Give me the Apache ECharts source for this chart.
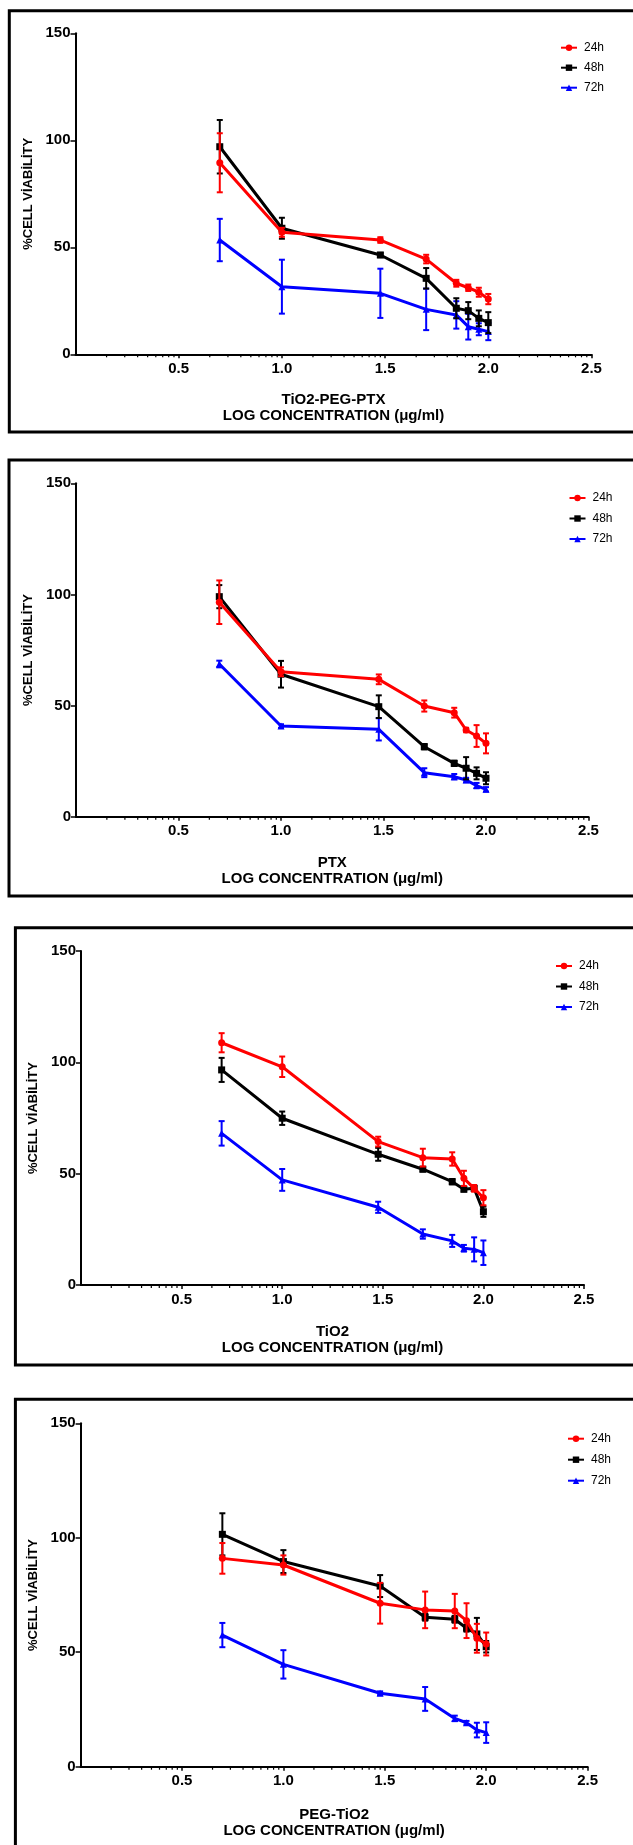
<!DOCTYPE html>
<html><head><meta charset="utf-8">
<script src="https://cdn.jsdelivr.net/npm/echarts@6/dist/echarts.min.js"></script>
<style>html,body{margin:0;padding:0;background:#fff}#c{width:633px;height:1845px}</style>
</head><body><div id="c"></div>
<script>
// ---------- DATA ----------
const logConc = [0.699, 1, 1.477, 1.699, 1.845, 1.903, 1.954, 2];
const xTickLabels = ['0.5', '1.0', '1.5', '2.0', '2.5'];
const yTicks = [0, 50, 100, 150];
const seriesNames = ['24h', '48h', '72h'];
const panelTitles = ['TiO2-PEG-PTX', 'PTX', 'TiO2', 'PEG-TiO2'];
const xAxisSubtitle = 'LOG CONCENTRATION (μg/ml)';
const yAxisTitle = '%CELL VİABİLİTY';

// Panel 1: TiO2-PEG-PTX
const p1_24 = [89.5, 57.0, 53.4, 44.5, 33.2, 31.1, 29.0, 25.8];
const p1_24err = [13.8, 2.1, 1.3, 2.0, 1.6, 1.5, 2.1, 2.4];
const p1_48 = [97.0, 58.9, 46.4, 35.5, 21.5, 20.4, 16.8, 14.8];
const p1_48err = [12.5, 4.9, 1.0, 4.8, 4.7, 4.0, 3.7, 4.9];
const p1_72 = [53.4, 31.6, 28.5, 21.0, 18.4, 12.9, 11.7, 10.6];
const p1_72err = [9.9, 12.6, 11.5, 9.7, 6.4, 6.0, 2.8, 4.0];

// Panel 2: PTX
const p2_24 = [96.5, 65.2, 61.8, 49.8, 46.8, 39.0, 36.3, 33.0];
const p2_24err = [9.8, 2.0, 2.2, 2.5, 2.2, 1.0, 4.9, 4.5];
const p2_48 = [99.0, 64.1, 49.5, 31.5, 24.0, 21.8, 19.5, 17.3];
const p2_48err = [5.2, 6.0, 5.1, 1.2, 1.2, 5.0, 2.7, 2.7];
const p2_72 = [68.7, 40.8, 39.3, 19.8, 18.0, 16.5, 14.0, 12.3];
const p2_72err = [1.5, 0.8, 5.0, 2.0, 1.2, 1.0, 1.2, 1.0];

// Panel 3: TiO2
const p3_24 = [108.8, 98.0, 64.4, 57.2, 56.6, 47.9, 43.4, 39.2];
const p3_24err = [4.3, 4.6, 2.2, 4.0, 3.0, 3.4, 1.5, 3.4];
const p3_48 = [96.6, 74.9, 58.7, 52.0, 46.4, 43.0, 43.4, 32.9];
const p3_48err = [5.4, 3.0, 2.9, 1.0, 1.2, 1.0, 1.0, 2.3];
const p3_72 = [68.1, 47.2, 34.9, 22.9, 19.8, 16.5, 16.0, 14.5];
const p3_72err = [5.5, 4.9, 2.5, 2.1, 2.7, 1.5, 5.4, 5.5];

// Panel 4: PEG-TiO2
const p4_24 = [91.0, 88.1, 71.4, 68.5, 68.0, 63.8, 56.1, 53.6];
const p4_24err = [6.7, 4.2, 8.9, 8.0, 7.5, 7.6, 6.3, 5.0];
const p4_48 = [101.5, 89.6, 78.9, 65.3, 64.4, 60.5, 58.0, 52.4];
const p4_48err = [9.2, 5.0, 4.8, 1.5, 1.5, 1.5, 7.0, 2.5];
const p4_72 = [57.5, 44.7, 32.1, 29.6, 21.1, 19.2, 16.0, 14.9];
const p4_72err = [5.3, 6.2, 0.8, 5.2, 1.2, 0.8, 3.2, 4.5];

// minor (log-style) tick positions on the x axis
const minorTickMultipliers = [2, 3, 4, 5, 6, 7, 8, 9];
const minorTickSegments = [0, 0.5, 1.0, 1.5, 2.0];

// ---------- STRUCTURE / STYLE ----------
const panelValues = [
  [[p1_24, p1_24err], [p1_48, p1_48err], [p1_72, p1_72err]],
  [[p2_24, p2_24err], [p2_48, p2_48err], [p2_72, p2_72err]],
  [[p3_24, p3_24err], [p3_48, p3_48err], [p3_72, p3_72err]],
  [[p4_24, p4_24err], [p4_48, p4_48err], [p4_72, p4_72err]]
];
const colors = ['#ff0000', '#000000', '#0000ff'];
const symbols = ['circle', 'rect', 'triangle'];
const zOrder = [6, 5, 4];
const FONT = '"Liberation Sans", Arial, sans-serif';

const layout = [
  { grid: { left: 75.5, top: 33.3, width: 516, height: 321 }, frame: { x: 9.3, y: 10.8, h: 421.2 }, legend: { left: 555, top: 36.7, gap: 8 }, nameGap: 38 },
  { grid: { left: 76, top: 483.3, width: 512.5, height: 333.4 }, frame: { x: 9, y: 460, h: 436 }, legend: { left: 563.5, top: 487, gap: 8.5 }, nameGap: 38.3 },
  { grid: { left: 81, top: 951, width: 503, height: 334 }, frame: { x: 15.4, y: 927.7, h: 437.3 }, legend: { left: 550, top: 955, gap: 8.5 }, nameGap: 39 },
  { grid: { left: 80.6, top: 1423.3, width: 507, height: 343.4 }, frame: { x: 15.4, y: 1399.3, h: 700 }, legend: { left: 562, top: 1427.7, gap: 9 }, nameGap: 40.3 }
];

const minorTicks = [];
minorTickSegments.forEach(s => minorTickMultipliers.forEach(k => minorTicks.push(s + 0.5 * Math.log10(k))));

const grids = [], xAxes = [], yAxes = [], legends = [], series = [], graphics = [];

layout.forEach((L, gi) => {
  grids.push(Object.assign({ containLabel: false }, L.grid));
  graphics.push({
    type: 'rect', silent: true, z: 0,
    shape: { x: L.frame.x, y: L.frame.y, width: 700, height: L.frame.h },
    style: { fill: 'none', stroke: '#000', lineWidth: 3 }
  });
  xAxes.push({
    gridIndex: gi, type: 'value', min: 0, max: 2.5, interval: 0.5,
    axisLine: { show: true, onZero: false, lineStyle: { color: '#000', width: 2 } },
    axisTick: { show: true, length: 4, lineStyle: { color: '#000', width: 1.5 } },
    axisLabel: {
      showMinLabel: false, color: '#000', fontWeight: 'bold', fontSize: 15, fontFamily: FONT, margin: 7,
      formatter: v => xTickLabels[Math.round(v / 0.5) - 1] || ''
    },
    splitLine: { show: false },
    name: panelTitles[gi] + '\n' + xAxisSubtitle,
    nameLocation: 'middle', nameGap: L.nameGap,
    nameTextStyle: { color: '#000', fontWeight: 'bold', fontSize: 15, fontFamily: FONT, lineHeight: 16 }
  });
  yAxes.push({
    gridIndex: gi, type: 'value', min: yTicks[0], max: yTicks[yTicks.length - 1], interval: 50,
    axisLine: { show: true, lineStyle: { color: '#000', width: 2 } },
    axisTick: { show: true, length: 5, lineStyle: { color: '#000', width: 1.5 } },
    axisLabel: { color: '#000', fontWeight: 'bold', fontSize: 15, fontFamily: FONT, margin: 5 },
    splitLine: { show: false },
    name: yAxisTitle, nameLocation: 'middle', nameGap: 34, nameRotate: 90,
    nameTextStyle: { color: '#000', fontWeight: 'bold', fontSize: 13, fontFamily: FONT }
  });
  legends.push({
    orient: 'vertical', left: L.legend.left, top: L.legend.top,
    itemWidth: 16, itemHeight: 8, itemGap: L.legend.gap, selectedMode: false,
    data: seriesNames,
    textStyle: { color: '#000', fontSize: 12, fontFamily: FONT, padding: [0, 0, 0, 2] }
  });
  // minor ticks
  series.push({
    type: 'custom', xAxisIndex: gi, yAxisIndex: gi, silent: true, clip: false, z: 3,
    data: minorTicks.map(v => [v, 0]),
    encode: { x: 0, y: 1 },
    renderItem: (params, api) => {
      const p = api.coord([api.value(0), 0]);
      return { type: 'line', shape: { x1: p[0], y1: p[1] + 1, x2: p[0], y2: p[1] + 3 }, style: { stroke: '#000', lineWidth: 1.2 } };
    }
  });
  // draw 72h first, then 48h, then 24h on top
  [2, 1, 0].forEach(si => {
    const vals = panelValues[gi][si][0], errs = panelValues[gi][si][1];
    const col = colors[si];
    series.push({
      type: 'custom', xAxisIndex: gi, yAxisIndex: gi, silent: true, z: zOrder[si],
      data: logConc.map((x, i) => [x, vals[i], errs[i]]),
      encode: { x: 0, y: 1 },
      renderItem: (params, api) => {
        const x = api.value(0), y = api.value(1), e = api.value(2);
        const t = api.coord([x, y + e]), b = api.coord([x, y - e]);
        const hw = 3;
        const st = { stroke: col, lineWidth: 2 };
        return {
          type: 'group', children: [
            { type: 'line', shape: { x1: t[0], y1: t[1], x2: b[0], y2: b[1] }, style: st },
            { type: 'line', shape: { x1: t[0] - hw, y1: t[1], x2: t[0] + hw, y2: t[1] }, style: st },
            { type: 'line', shape: { x1: b[0] - hw, y1: b[1], x2: b[0] + hw, y2: b[1] }, style: st }
          ]
        };
      }
    });
    series.push({
      type: 'line', name: seriesNames[si], xAxisIndex: gi, yAxisIndex: gi, z: zOrder[si],
      data: logConc.map((x, i) => [x, vals[i]]),
      symbol: symbols[si], symbolSize: 7, showAllSymbol: true,
      lineStyle: { color: col, width: 3 },
      itemStyle: { color: col },
      emphasis: { disabled: true }
    });
  });
});

const chart = echarts.init(document.getElementById('c'), null, { renderer: 'canvas' });
chart.setOption({
  animation: false,
  backgroundColor: '#fff',
  grid: grids, xAxis: xAxes, yAxis: yAxes, legend: legends,
  series: series, graphic: graphics
});
</script></body></html>
